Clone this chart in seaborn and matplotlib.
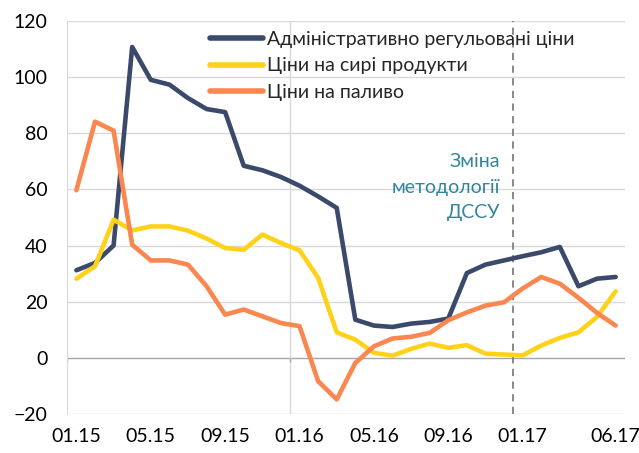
import pandas as pd
import matplotlib.pyplot as plt
import seaborn as sns

# Місяці 01.15 - 06.17
months = [f"{m:02d}.{y}" for y in (15, 16, 17) for m in range(1, 13)][:30]
tick_pos = [0, 4, 8, 12, 16, 20, 24, 29]
tick_labels = ["01.15", "05.15", "09.15", "01.16", "05.16", "09.16", "01.17", "06.17"]

admin = [31.2, 33.8, 40.0, 110.7, 99.0, 97.3, 92.5, 88.6, 87.5, 68.4,
         66.8, 64.4, 61.3, 57.5, 53.4, 13.6, 11.5, 11.0, 12.2, 12.8,
         14.0, 30.2, 33.2, 34.7, 36.2, 37.6, 39.5, 25.5, 28.2, 28.8]
raw = [28.2, 32.6, 49.2, 45.4, 46.8, 46.8, 45.3, 42.5, 39.1, 38.5,
       43.9, 40.9, 38.3, 28.5, 9.1, 6.5, 1.8, 0.8, 3.2, 5.1,
       3.6, 4.5, 1.5, 1.2, 0.9, 4.4, 7.1, 9.1, 14.6, 23.7]
fuel = [59.7, 84.1, 80.9, 40.3, 34.7, 34.7, 33.2, 25.5, 15.4, 17.2,
        14.8, 12.4, 11.3, -8.3, -14.8, -1.8, 4.1, 6.9, 7.5, 8.9,
        13.4, 16.2, 18.6, 19.8, 24.7, 28.8, 26.4, 21.4, 16.0, 11.5]

names = ["Адміністративно регульовані ціни", "Ціни на сирі продукти", "Ціни на паливо"]
colors = ["#3B4A6B", "#FFD21A", "#FA8650"]

df = pd.concat([
    pd.DataFrame({"i": range(len(months)), "value": vals, "series": name})
    for name, vals in zip(names, [admin, raw, fuel])
])

sns.set_style("white")
plt.rcParams["font.family"] = ["Lato", "DejaVu Sans"]

fig = plt.figure(figsize=(6.39, 4.53), dpi=100)
ax = fig.add_axes([0.105, 0.086, 0.873, 0.868])

# сітка
for v in range(-20, 121, 20):
    if v != 0:
        ax.axhline(v, color="#D9D9D9", lw=1, zorder=0)
ax.axhline(0, color="#A6A6A6", lw=1, zorder=0)
ax.axvline(11.5, color="#D9D9D9", lw=1, zorder=0)
ax.vlines([-0.5, 11.5], -1.6, 0, color="#A6A6A6", lw=1, zorder=0)
ax.axvline(23.5, color="#7F7F7F", lw=1.3, ls=(0, (4, 3)), zorder=1)

sns.lineplot(data=df, x="i", y="value", hue="series", palette=colors,
             lw=3.3, ax=ax, zorder=3)

ax.set_xlim(-0.5, 29.5)
ax.set_ylim(-20, 120)
ax.set_yticks(range(-20, 121, 20))
ax.set_xticks(tick_pos)
ax.set_xticklabels(tick_labels)
ax.tick_params(axis="both", length=0, labelsize=14, colors="black")
ax.tick_params(axis="y", pad=14)
ax.tick_params(axis="x", pad=10)
ax.set_xlabel("")
ax.set_ylabel("")
for s in ["top", "right", "bottom"]:
    ax.spines[s].set_visible(False)
ax.spines["left"].set_color("#D9D9D9")

leg = ax.legend(loc="upper left", bbox_to_anchor=(0.232, 1.008), frameon=False,
                fontsize=14, handlelength=2.7, handletextpad=0.25,
                labelspacing=0.47, borderaxespad=0.3)
for line in leg.get_lines():
    line.set_linewidth(4)

ax.text(22.8, 73, "Зміна\nметодології\nДССУ", ha="right", va="top",
        color="#31859C", fontsize=14, linespacing=1.62)

fig.savefig("out.png", dpi=100)
